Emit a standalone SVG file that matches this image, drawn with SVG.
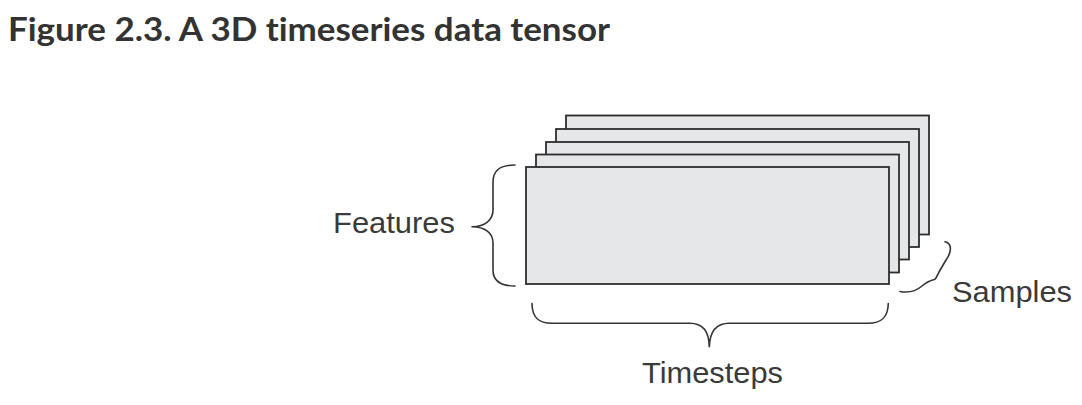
<svg xmlns="http://www.w3.org/2000/svg" width="1082" height="405" viewBox="0 0 1082 405">
<style>
.sheet{fill:#e6e7e8;stroke:#2e2e2e;stroke-width:1.8}
.brace{fill:none;stroke:#333;stroke-width:1.6;stroke-linecap:round;stroke-linejoin:round}
.lbl{font-family:"Liberation Sans",Arial,sans-serif;font-size:30px;fill:#3a3a3a}
.title{font-family:Lato,"Liberation Sans",sans-serif;font-weight:700;font-size:32px;fill:#333;font-variant-ligatures:none}
</style>
<rect width="1082" height="405" fill="#fff"/>
<text class="title" x="8" y="41" textLength="602" lengthAdjust="spacingAndGlyphs">Figure 2.3. A 3D timeseries data tensor</text>
<g id="tensor">
<rect class="sheet" x="566" y="115.5" width="363" height="119"/>
<rect class="sheet" x="556" y="129" width="363" height="118"/>
<rect class="sheet" x="546" y="142" width="363" height="117.5"/>
<rect class="sheet" x="536" y="154.5" width="363" height="118"/>
<rect class="sheet" x="526" y="167" width="363" height="117"/>
</g>
<g id="connectors">
<path class="brace" d="M515,165 C500,165 493,170 493,182 L493,210 C493,220 485,226.7 472,226.7 C485,226.7 493,233 493,243 L493,270 C493,281 500,286 515,286"/>
<path class="brace" d="M532,303.5 C532,317 538,323.3 552,323.3 L690,323.3 C702,323.3 709,330 709.3,346.7 C710,330 717,323.3 729,323.3 L868,323.3 C882,323.3 888,317 888.3,303.5"/>
<path class="brace" d="M945,241.7 C952,243 952,252 946,260 L939,272 C937,276 936,279 934.5,279.5 C932,280 928,281 922,286 C915,292 908,293 900,291.5"/>
</g>
<g id="features"><text class="lbl" x="333" y="233" textLength="122" lengthAdjust="spacingAndGlyphs">Features</text></g>
<g id="samples"><text class="lbl" x="952" y="302" textLength="120" lengthAdjust="spacingAndGlyphs">Samples</text></g>
<g id="timesteps"><text class="lbl" x="642" y="383" textLength="141" lengthAdjust="spacingAndGlyphs">Timesteps</text></g>
</svg>
